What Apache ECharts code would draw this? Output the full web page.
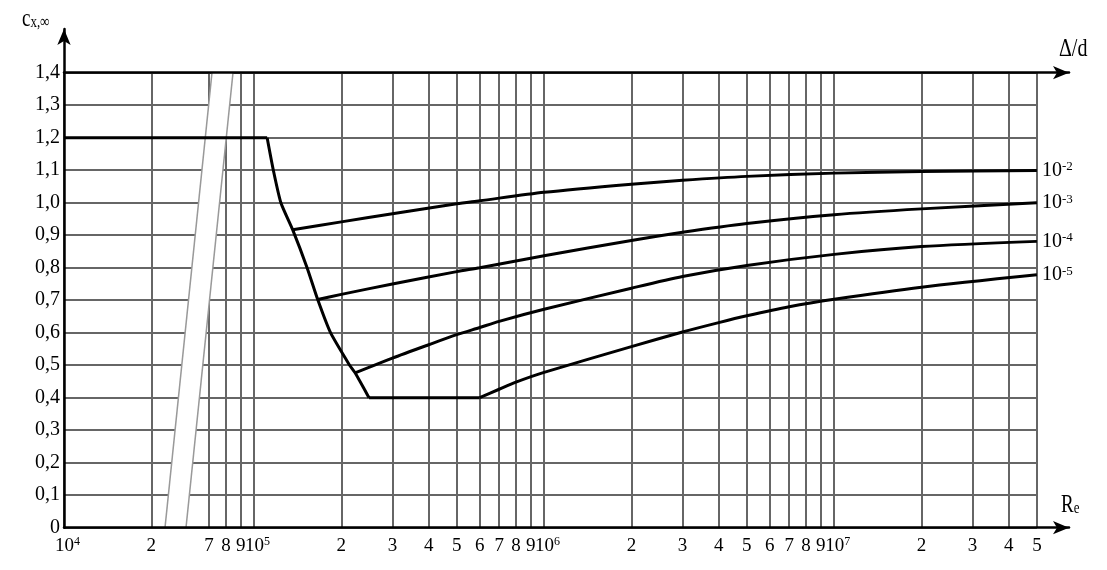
<!DOCTYPE html>
<html><head><meta charset="utf-8">
<script src="https://cdn.jsdelivr.net/npm/echarts@6/dist/echarts.min.js"></script>
<style>html,body{margin:0;padding:0;background:#fff}#c{width:1107px;height:570px}</style>
</head><body><div id="c"></div>
<script>
// ---- data (Re on a broken log axis, c_x,inf on linear axis) ----
const xTickRe = [1e4, 2e4, 7e4, 8e4, 9e4, 1e5, 2e5, 3e5, 4e5, 5e5, 6e5, 7e5, 8e5, 9e5,
                 1e6, 2e6, 3e6, 4e6, 5e6, 6e6, 7e6, 8e6, 9e6, 1e7, 2e7, 3e7, 4e7, 5e7];
const xTickLabels = ['10^4','2','7','8','9','10^5','2','3','4','5','6','7','8','9',
                     '10^6','2','3','4','5','6','7','8','9','10^7','2','3','4','5'];

// main (smooth-wall) curve: upper plateau, drop, lower plateau
const plateauHighRe = [1e4, 1.11e5];
const plateauHighCx = [1.2, 1.2];
const dropRe = [1.11e5, 1.166e5, 1.238e5, 1.359e5, 1.524e5, 1.658e5, 1.836e5, 2.136e5, 2.231e5, 2.491e5];
const dropCx = [1.2, 1.1, 1.0, 0.917, 0.8, 0.702, 0.6, 0.5, 0.4765, 0.40];
const plateauLowRe = [2.491e5, 6.0e5];
const plateauLowCx = [0.40, 0.40];

const re_m2 = [1.359e5, 2e5, 3e5, 5e5, 6e5, 1e6, 2e6, 3e6, 5e6, 1e7, 2e7, 5e7];
const cx_m2 = [0.917, 0.941, 0.966, 0.997, 1.006, 1.032, 1.057, 1.069, 1.081, 1.091, 1.096, 1.099];

const re_m3 = [1.658e5, 2e5, 3e5, 5e5, 6e5, 1e6, 2e6, 3e6, 5e6, 1e7, 2e7, 5e7];
const cx_m3 = [0.702, 0.718, 0.750, 0.788, 0.800, 0.837, 0.884, 0.909, 0.936, 0.963, 0.981, 1.0];

const re_m4 = [2.231e5, 3e5, 4e5, 5e5, 6e5, 7e5, 1e6, 2e6, 3e6, 5e6, 1e7, 2e7, 5e7];
const cx_m4 = [0.4765, 0.522, 0.563, 0.594, 0.616, 0.635, 0.672, 0.737, 0.773, 0.807, 0.841, 0.865, 0.881];

const re_m5 = [6e5, 7e5, 8e5, 1e6, 2e6, 3e6, 4e6, 5e6, 7e6, 1e7, 2e7, 5e7];
const cx_m5 = [0.40, 0.426, 0.448, 0.478, 0.557, 0.602, 0.631, 0.652, 0.680, 0.703, 0.740, 0.778];

const roughnessLabels = ['-2', '-3', '-4', '-5'];

// axis break: values below BREAK_AT are shifted right by BREAK_SHIFT decades
const BREAK_AT = 4e4;
const BREAK_SHIFT = 0.345;
// break band (axis units, bottom & top edges)
const breakBottomU = [4.6932, 4.7656];
const breakTopU = [4.8552, 4.9276];

function toU(re) { const l = Math.log10(re); return re < BREAK_AT ? l + BREAK_SHIFT : l; }
const tickU = xTickRe.map(toU);
const U_MIN = toU(xTickRe[0]);
const U_MAX = toU(xTickRe[xTickRe.length - 1]);
const pts = (re, cx) => re.map((r, i) => [toU(r), cx[i]]);

const FONT = 'Liberation Serif';
const grey = '#666';

function xFmt(v) {
  let best = 0, d = Infinity;
  tickU.forEach((t, i) => { const dd = Math.abs(t - v); if (dd < d) { d = dd; best = i; } });
  const lab = xTickLabels[best];
  if (lab.startsWith('10^')) return '{bp|10}{p|' + lab.slice(3) + '}';
  return '{b|' + lab + '}';
}

const arrowAxis = {
  type: 'value', min: 0, max: 1, z: 10,
  axisLine: { show: true, onZero: false, symbol: ['none', 'arrow'], symbolSize: [10, 16],
              lineStyle: { color: '#000', width: 2.5 } },
  axisTick: { show: false }, axisLabel: { show: false }, splitLine: { show: false }
};

function curve(re, cx, smooth) {
  return {
    type: 'line', xAxisIndex: 0, yAxisIndex: 0, z: 3, symbol: 'none', silent: true,
    smooth: smooth,
    data: pts(re, cx), lineStyle: { color: '#000', width: 3 }
  };
}

function branch(re, cx, lab) {
  const s = curve(re, cx, 0.25);
  s.endLabel = {
    show: true, distance: 5, color: '#000',
    formatter: '{b|10}{p|' + lab + '}',
    rich: {
      b: { fontSize: 20, fontFamily: FONT, color: '#000', lineHeight: 20 },
      p: { fontSize: 13, fontFamily: FONT, color: '#000', lineHeight: 13, verticalAlign: 'top' }
    }
  };
  return s;
}

const chart = echarts.init(document.getElementById('c'), null, { renderer: 'canvas' });
chart.setOption({
  animation: false,
  backgroundColor: '#fff',
  grid: [
    { left: 64, right: 70.1, top: 72.7, bottom: 42.3, outerBoundsMode: 'none' },
    { left: 64, right: 38, top: 29, bottom: 42.3, outerBoundsMode: 'none' },
    { left: 64, right: 38, top: 72.7, bottom: 42.3, outerBoundsMode: 'none' }
  ],
  xAxis: [
    {
      gridIndex: 0, type: 'value', min: U_MIN, max: U_MAX,
      axisLine: { show: false },
      axisTick: { show: false, customValues: tickU },
      axisLabel: {
        customValues: tickU, formatter: xFmt, margin: 8,
        rich: {
          b: { fontSize: 19, fontFamily: FONT, color: '#000', lineHeight: 20 },
          bp: { fontSize: 19, fontFamily: FONT, color: '#000', lineHeight: 20, padding: [0, 0, 0, 7] },
          p: { fontSize: 12, fontFamily: FONT, color: '#000', lineHeight: 12, verticalAlign: 'top' }
        }
      },
      splitLine: { show: true, lineStyle: { color: grey, width: 2 } }
    },
    Object.assign({ gridIndex: 1, position: 'bottom' }, arrowAxis),
    Object.assign({ gridIndex: 2, position: 'top' }, arrowAxis)
  ],
  yAxis: [
    {
      gridIndex: 0, type: 'value', min: 0, max: 1.4, interval: 0.1,
      axisLine: { show: false }, axisTick: { show: false },
      axisLabel: {
        margin: 4, fontSize: 20, fontFamily: FONT, color: '#000',
        formatter: v => (Math.abs(v) < 1e-9 ? '0' : v.toFixed(1).replace('.', ','))
      },
      splitLine: { show: true, lineStyle: { color: grey, width: 2 } }
    },
    Object.assign({ gridIndex: 1, position: 'left' }, arrowAxis),
    { gridIndex: 2, type: 'value', show: false, min: 0, max: 1 }
  ],
  graphic: [
    { type: 'text', x: 22, y: 7, scaleY: 1.35, style: {
        text: '{c|c}{s|x,∞}',
        rich: {
          c: { fontSize: 19, fontFamily: FONT, fill: '#000', lineHeight: 18 },
          s: { fontSize: 13, fontFamily: FONT, fill: '#000', lineHeight: 12, verticalAlign: 'bottom' }
        } } },
    { type: 'text', x: 1059, y: 37, scaleY: 1.25, style: {
        text: 'Δ/d', fontSize: 20, fontFamily: FONT, fill: '#000' } },
    { type: 'text', x: 1061, y: 493, scaleY: 1.35, style: {
        text: '{r|R}{e|e}',
        rich: {
          r: { fontSize: 19, fontFamily: FONT, fill: '#000', lineHeight: 18 },
          e: { fontSize: 13, fontFamily: FONT, fill: '#000', lineHeight: 12, verticalAlign: 'bottom' }
        } } }
  ],
  series: [
    {
      type: 'custom', xAxisIndex: 0, yAxisIndex: 0, z: 1, silent: true, data: [0],
      renderItem: (params, api) => {
        const b0 = api.coord([breakBottomU[0], 0]), b1 = api.coord([breakBottomU[1], 0]);
        const t0 = api.coord([breakTopU[0], 1.4]), t1 = api.coord([breakTopU[1], 1.4]);
        return { type: 'group', children: [
          { type: 'polygon', shape: { points: [b0, b1, t1, t0] }, style: { fill: '#fff', stroke: null } },
          { type: 'line', shape: { x1: b0[0], y1: b0[1], x2: t0[0], y2: t0[1] }, style: { stroke: '#999', lineWidth: 1.5 } },
          { type: 'line', shape: { x1: b1[0], y1: b1[1], x2: t1[0], y2: t1[1] }, style: { stroke: '#999', lineWidth: 1.5 } }
        ] };
      }
    },
    curve(plateauHighRe, plateauHighCx, false),
    curve(dropRe, dropCx, 0.2),
    curve(plateauLowRe, plateauLowCx, false),
    branch(re_m2, cx_m2, roughnessLabels[0]),
    branch(re_m3, cx_m3, roughnessLabels[1]),
    branch(re_m4, cx_m4, roughnessLabels[2]),
    branch(re_m5, cx_m5, roughnessLabels[3])
  ]
});
</script></body></html>
